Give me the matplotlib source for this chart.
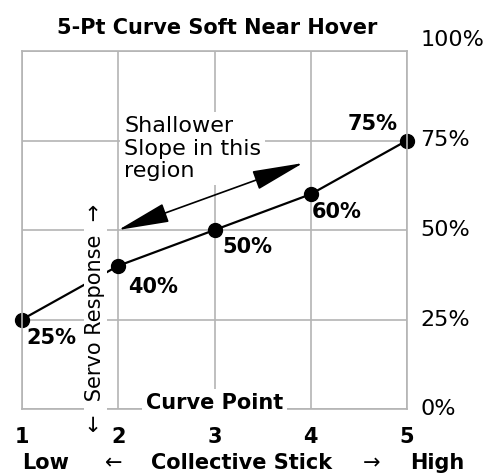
import matplotlib
matplotlib.use("Agg")
import matplotlib.pyplot as plt

# curve points and labels
curve_pts = [1, 2, 3, 4, 5]
servo_pct = [25, 40, 50, 60, 75]
pt_labels = ["25%", "40%", "50%", "60%", "75%"]
y_ticks = [0, 25, 50, 75, 100]
y_labels = ["0%", "25%", "50%", "75%", "100%"]
arrow_from = (2, 50)
arrow_to = (3.92, 68.7)

GRID = "#b4b4b4"

fig = plt.figure(figsize=(4.91, 4.76), dpi=100)
ax = fig.add_axes([22/491, 67/476, 385/491, 358/476])
ax.set_xlim(1, 5)
ax.set_ylim(0, 100)
ax.set_xticks(curve_pts)
ax.set_yticks(y_ticks)
ax.grid(True, color=GRID, lw=1.2)
for s in ax.spines.values():
    s.set_color(GRID)
    s.set_linewidth(1.2)
ax.tick_params(axis="x", length=0, pad=13, labelsize=15)
ax.tick_params(axis="y", length=0, labelleft=False)
for lab in ax.get_xticklabels():
    lab.set_fontweight("bold")

# right side percentages
for v, lab in zip(y_ticks, y_labels):
    ax.annotate(lab, xy=(1, v), xycoords=("axes fraction", "data"),
                xytext=(9.5, 8 if v == 100 else 0), textcoords="offset points",
                ha="left", va="center", fontsize=16, annotation_clip=False)

# the curve
ax.plot(curve_pts, servo_pct, color="black", lw=1.6, marker="o", ms=10,
        clip_on=False, zorder=2)
offsets = [(21, -13), (25, -15), (24, -12), (19, -13), (-25, 12)]
for x, y, lab, off in zip(curve_pts, servo_pct, pt_labels, offsets):
    ax.annotate(lab, xy=(x, y), xytext=off, textcoords="offset points",
                ha="center", va="center", fontsize=15, fontweight="bold",
                annotation_clip=False, zorder=5)

# note about the slope
ax.text(2.06, 81.8, "Shallower\nSlope in this\nregion", fontsize=16,
        ha="left", va="top", linespacing=1.15, zorder=3,
        bbox=dict(facecolor="white", edgecolor="none", pad=3))
ax.annotate("", xy=arrow_to, xytext=arrow_from,
            arrowprops=dict(arrowstyle="<|-|>,head_length=1.8,head_width=0.34",
                            mutation_scale=18, color="black", lw=1.2,
                            shrinkA=0, shrinkB=0), zorder=4)

# axis captions drawn inside the frame
ax.text(3, 1.7, "Curve Point", fontsize=15, fontweight="bold",
        ha="center", va="center", zorder=3,
        bbox=dict(facecolor="white", edgecolor="none", pad=3))
ax.text(1.76, 25.3, "\u2190  Servo Response  \u2192", fontsize=15, rotation=90,
        ha="center", va="center", zorder=3, clip_on=False,
        bbox=dict(facecolor="white", edgecolor="none", pad=1))

# bottom caption
fig.text(46/491, 1 - 463/476, "Low", fontsize=15, fontweight="bold",
         ha="center", va="center")
fig.text(114/491, 1 - 463/476, "\u2190", fontsize=15, ha="center", va="center")
fig.text(242/491, 1 - 463/476, "Collective Stick", fontsize=15,
         fontweight="bold", ha="center", va="center")
fig.text(372/491, 1 - 463/476, "\u2192", fontsize=15, ha="center", va="center")
fig.text(437/491, 1 - 463/476, "High", fontsize=15, fontweight="bold",
         ha="center", va="center")

fig.text(217/491, 1 - 28/476, "5-Pt Curve Soft Near Hover", fontsize=15,
         fontweight="bold", ha="center", va="center")

fig.savefig("out.png", dpi=100)
